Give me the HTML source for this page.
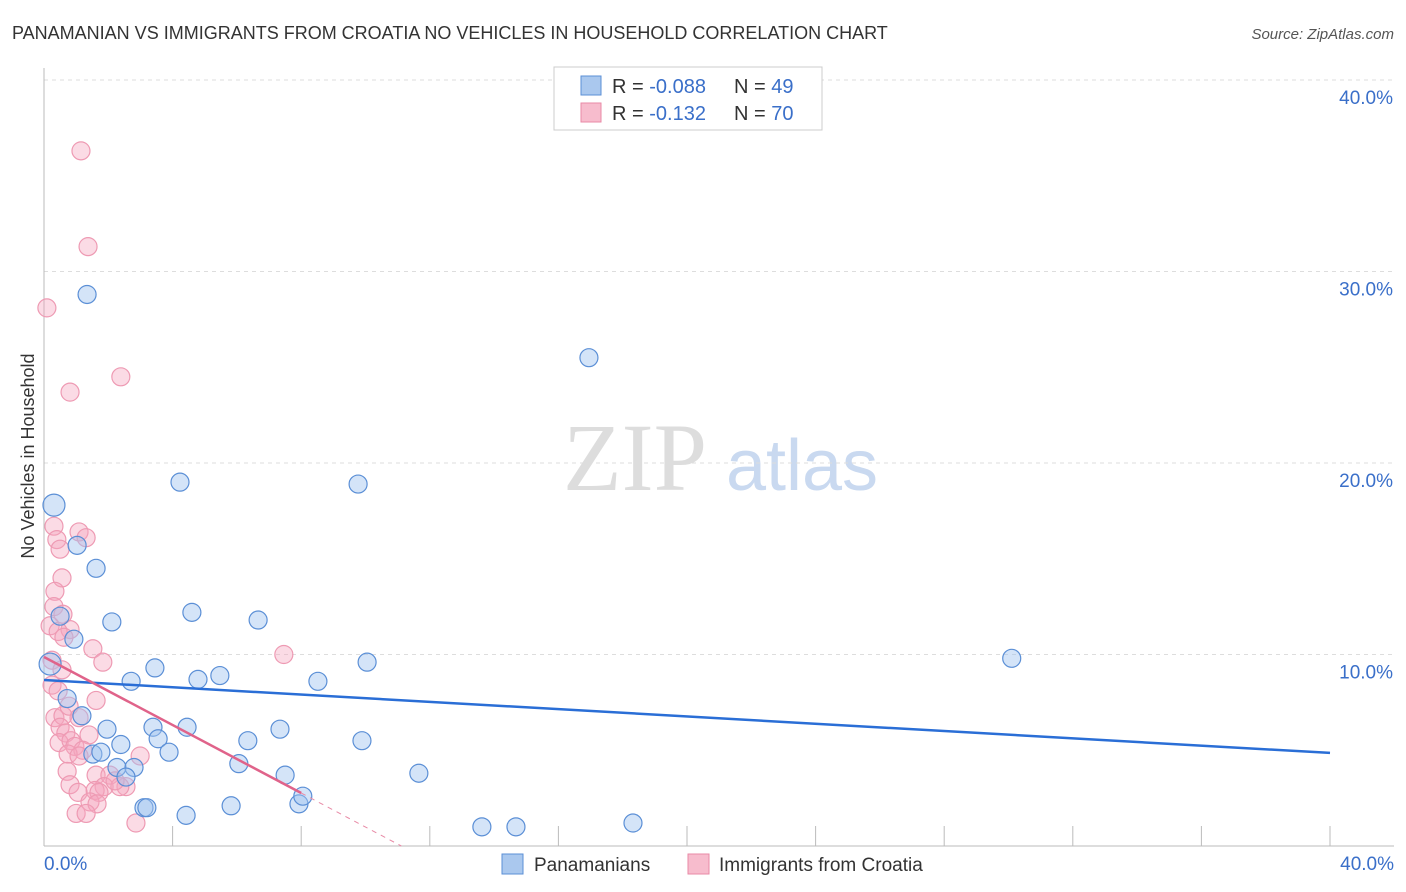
<!DOCTYPE html>
<html><head><meta charset="utf-8"><style>
body{margin:0;background:#fff;font-family:"Liberation Sans",sans-serif;}
svg{display:block}
</style></head><body>
<svg id="c" width="1406" height="892">
<text x="12" y="39" font-size="18" fill="#333">PANAMANIAN VS IMMIGRANTS FROM CROATIA NO VEHICLES IN HOUSEHOLD CORRELATION CHART</text>
<text x="1394" y="39" font-size="15" fill="#555" font-style="italic" text-anchor="end">Source: ZipAtlas.com</text>
<text x="34" y="456" font-size="18" fill="#333" text-anchor="middle" transform="rotate(-90 34 456)">No Vehicles in Household</text>
<g>
<text x="635" y="490" font-size="96" font-family="Liberation Serif,serif" fill="#ddd" text-anchor="middle">ZIP</text>
<text x="802" y="490" font-size="72" fill="#c9d9f0" text-anchor="middle">atlas</text>
</g>
<g id="grid"></g><g id="axes"></g><g id="pts"></g><g id="lines"></g>
<g>
<rect x="554" y="67" width="268" height="63" fill="#fff" stroke="#ccc"/>
<rect x="581" y="76" width="20" height="19" fill="#aac8ee" stroke="#5b8fd6"/>
<rect x="581" y="103" width="20" height="19" fill="#f7bccd" stroke="#e88aa6"/>
<text x="612" y="93" font-size="20" fill="#333">R = <tspan fill="#3a6fc9">-0.088</tspan></text>
<text x="734" y="93" font-size="20" fill="#333">N = <tspan fill="#3a6fc9">49</tspan></text>
<text x="612" y="120" font-size="20" fill="#333">R =  <tspan fill="#3a6fc9">-0.132</tspan></text>
<text x="734" y="120" font-size="20" fill="#333">N = <tspan fill="#3a6fc9">70</tspan></text>
</g>
<g>
<rect x="502" y="854" width="21" height="20" fill="#aac8ee" stroke="#5b8fd6"/>
<text x="534" y="871" font-size="19" fill="#333">Panamanians</text>
<rect x="688" y="854" width="21" height="20" fill="#f7bccd" stroke="#e88aa6"/>
<text x="719" y="871" font-size="19" fill="#333">Immigrants from Croatia</text>
</g>
</svg>
<script>
const yTicks=[10,20,30,40];
const xTickLabels=["0.0%","40.0%"];
const blueX=[0.31,1.34,16.95,4.23,9.77,1.03,1.62,2.11,4.60,6.66,0.50,0.93,3.45,10.05,30.1,2.71,4.79,5.47,8.52,0.19,0.72,1.18,1.96,3.39,4.45,7.34,2.39,3.55,3.89,6.34,9.89,1.52,1.77,2.27,2.80,2.55,6.06,7.50,11.66,3.11,3.20,4.42,5.82,7.93,8.05,13.62,14.68,18.32];
const blueY=[17.8,28.8,25.5,19.0,18.9,15.7,14.5,11.7,12.2,11.8,12.0,10.8,9.3,9.6,9.8,8.6,8.7,8.9,8.6,9.5,7.7,6.8,6.1,6.2,6.2,6.1,5.3,5.6,4.9,5.5,5.5,4.8,4.9,4.1,4.1,3.6,4.3,3.7,3.8,2.0,2.0,1.6,2.1,2.2,2.6,1.0,1.0,1.2];
const pinkX=[1.15,1.37,0.09,2.39,0.81,0.31,1.09,1.31,0.40,0.50,0.56,0.34,0.31,0.59,0.19,0.81,0.44,0.62,1.52,7.46,1.83,0.25,0.56,0.25,0.44,1.62,0.34,0.59,0.78,1.09,0.50,0.68,1.40,0.47,0.84,0.96,1.21,0.75,1.09,2.99,0.72,1.62,2.05,0.81,1.87,2.55,1.59,1.71,1.06,1.43,1.65,1.00,1.31,2.86,2.36,2.21];
const pinkY=[36.3,31.3,28.1,24.5,23.7,16.7,16.4,16.1,16.0,15.5,14.0,13.3,12.5,12.1,11.5,11.3,11.2,10.9,10.3,10.0,9.6,9.7,9.2,8.4,8.1,7.6,6.7,6.8,7.3,6.7,6.2,5.9,5.8,5.4,5.5,5.2,5.0,4.8,4.7,4.7,3.9,3.7,3.7,3.2,3.1,3.1,2.9,2.8,2.8,2.3,2.2,1.7,1.7,1.2,3.1,3.4];
const blueTrend=[8.67,4.86];
const pinkTrend=[9.87,-0.888];
const X=v=>44+v/40*1286, Y=v=>846-v/10*191.5;
const NS="http://www.w3.org/2000/svg";
function mk(p,t,a){const e=document.createElementNS(NS,t);for(const k in a)e.setAttribute(k,a[k]);p.appendChild(e);return e;}
const grid=document.getElementById('grid'),axes=document.getElementById('axes'),pts=document.getElementById('pts'),lines=document.getElementById('lines');
yTicks.forEach(t=>{
 const l=mk(grid,'line',{x1:44,x2:1394,y1:Y(t),y2:Y(t),stroke:'#ddd','stroke-dasharray':'4,4'});
 
 
 const tx=mk(axes,'text',{x:1393,y:Y(t)+24,'font-size':19,fill:'#3a6fc9','text-anchor':'end'});
 tx.textContent=t.toFixed(1)+'%';
 
 
});
mk(axes,'line',{x1:44,x2:44,y1:68,y2:846,stroke:'#bbb'});
mk(axes,'line',{x1:44,x2:1394,y1:846,y2:846,stroke:'#bbb'});
for(let i=1;i<=10;i++){const x=X(i*4);mk(axes,'line',{x1:x,x2:x,y1:826,y2:846,stroke:'#bbb'});}
const xl0=mk(axes,'text',{x:44,y:870,'font-size':19,fill:'#3a6fc9'});xl0.textContent=xTickLabels[0];


const xl1=mk(axes,'text',{x:1394,y:870,'font-size':19,fill:'#3a6fc9','text-anchor':'end'});xl1.textContent=xTickLabels[1];


pinkX.forEach((v,i)=>{const c=mk(pts,'circle',{cx:X(v),cy:Y(pinkY[i]),r:9,fill:'rgba(244,166,190,0.4)',stroke:'#ee9ab3','stroke-width':1.2});
 
 });
blueX.forEach((v,i)=>{const c=mk(pts,'circle',{cx:X(v),cy:Y(blueY[i]),r:(i==0||i==19)?11:9,fill:'rgba(160,195,240,0.45)',stroke:'#5b8fd6','stroke-width':1.2});
 
 });
const bl=mk(lines,'line',{x1:X(0),y1:Y(blueTrend[0]),x2:X(40),y2:Y(blueTrend[1]),stroke:'#2a6ed6','stroke-width':2.5});


const pe=8,pz=-pinkTrend[0]/pinkTrend[1];
const pl=mk(lines,'line',{x1:X(0),y1:Y(pinkTrend[0]),x2:X(pe),y2:Y(pinkTrend[0]+pinkTrend[1]*pe),stroke:'#e0638a','stroke-width':2.5});


const pd=mk(lines,'line',{x1:X(pe),y1:Y(pinkTrend[0]+pinkTrend[1]*pe),x2:X(pz),y2:Y(0),stroke:'#e88aa6','stroke-width':1,'stroke-dasharray':'5,5'});


</script>
</body></html>
